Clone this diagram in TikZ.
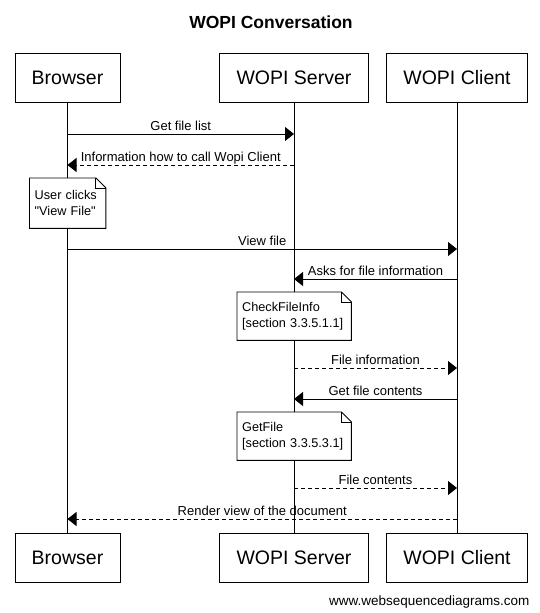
\documentclass[tikz,border=0pt]{standalone}
\usepackage{fontspec}
\setmainfont{Liberation Sans}
\newfontfamily\notefont{Liberation Sans}
\usetikzlibrary{arrows.meta}

\begin{document}
\begin{tikzpicture}[x=1pt,y=-1pt,
	actor/.style={draw,line width=0.9pt,minimum width=#1,minimum height=49pt,inner sep=0pt,font=\fontsize{19.5}{22}\selectfont},
	life/.style={line width=0.9pt},
	msg/.style={line width=0.9pt,-{Triangle[length=9pt,width=14pt]}},
	reply/.style={msg,dash pattern=on 4pt off 3pt},
	lbl/.style={above,inner sep=1pt,text depth=2.5pt,font=\fontsize{13}{15}\selectfont},
	memo/.style={anchor=north west,fill=white,align=left,inner xsep=5pt,minimum height=48pt,font=\notefont\fontsize{12.7}{15.5}\selectfont},
	fold/.style={line width=0.9pt,line join=miter}]

	\useasboundingbox (0,0) rectangle (540,613);

	\node[font=\bfseries\fontsize{17.5}{20}\selectfont] (title) at (271,22) {WOPI Conversation};

	% participants, top and bottom
	\node[actor=105pt] (brT) at (67.5,77.5) {Browser};
	\node[actor=149pt] (srvT) at (294,77.5) {WOPI Server};
	\node[actor=141pt] (cliT) at (457,77.5) {WOPI Client};
	\node[actor=105pt] (brB) at (67.5,557.5) {Browser};
	\node[actor=149pt] (srvB) at (294,557.5) {WOPI Server};
	\node[actor=141pt] (cliB) at (457,557.5) {WOPI Client};

	\draw[life] (brT) -- (brB);
	\draw[life] (srvT) -- (srvB);
	\draw[life] (cliT) -- (cliB);

	% messages
	\draw[msg] (brT |- 0,134) -- node[lbl]{Get file list} (srvT |- 0,134);
	\draw[reply] (srvT |- 0,165) -- node[lbl]{Information how to call Wopi Client} (brT |- 0,165);
	\draw[msg] (brT |- 0,249) -- node[lbl]{View file} (cliT |- 0,249);
	\draw[msg] (cliT |- 0,279) -- node[lbl]{Asks for file information} (srvT |- 0,279);
	\draw[reply] (srvT |- 0,368) -- node[lbl]{File information} (cliT |- 0,368);
	\draw[msg] (cliT |- 0,399) -- node[lbl]{Get file contents} (srvT |- 0,399);
	\draw[reply] (srvT |- 0,488) -- node[lbl]{File contents} (cliT |- 0,488);
	\draw[reply] (cliT |- 0,519) -- node[lbl]{Render view of the document} (brT |- 0,519);

	% notes
	\node[memo,text width=66pt,minimum height=50pt] (nClick) at (29.5,178) {User clicks\\"View File"};
	\draw[fold] (nClick.south west) -- (nClick.north west) -- ([xshift=-10pt]nClick.north east) -- ([yshift=-10pt]nClick.north east) -- (nClick.south east) -- cycle;
	\draw[fold] ([xshift=-10pt]nClick.north east) -- ++(0,10) -- ++(10,0);

	\node[memo,text width=104pt] (nInfo) at (237,292) {CheckFileInfo\\{}[section 3.3.5.1.1]};
	\draw[fold] (nInfo.south west) -- (nInfo.north west) -- ([xshift=-10pt]nInfo.north east) -- ([yshift=-10pt]nInfo.north east) -- (nInfo.south east) -- cycle;
	\draw[fold] ([xshift=-10pt]nInfo.north east) -- ++(0,10) -- ++(10,0);

	\node[memo,text width=104pt] (nGet) at (237,412) {GetFile\\{}[section 3.3.5.3.1]};
	\draw[fold] (nGet.south west) -- (nGet.north west) -- ([xshift=-10pt]nGet.north east) -- ([yshift=-10pt]nGet.north east) -- (nGet.south east) -- cycle;
	\draw[fold] ([xshift=-10pt]nGet.north east) -- ++(0,10) -- ++(10,0);

	\node[anchor=east,font=\fontsize{13.5}{16}\selectfont] (site) at (533,602) {www.websequencediagrams.com};

\end{tikzpicture}
\end{document}
